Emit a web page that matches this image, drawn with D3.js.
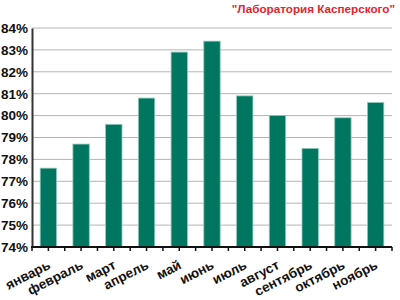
<!DOCTYPE html>
<html><head><meta charset="utf-8">
<script src="https://cdn.jsdelivr.net/npm/d3@7"></script>
<style>body{margin:0;background:#fff}svg{display:block}</style>
</head><body>
<script>
const months = ["январь","февраль","март","апрель","май","июнь","июль","август","сентябрь","октябрь","ноябрь"];
const values = [77.6, 78.7, 79.6, 80.8, 82.9, 83.4, 80.9, 80.0, 78.5, 79.9, 80.6];
const yTicks = [74,75,76,77,78,79,80,81,82,83,84];
const title = "\"Лаборатория Касперского\"";

(function () {
const W = 400, H = 300;
const svg = d3.select("body").append("svg").attr("width", W).attr("height", H);
const mLeft = 32, mRight = 392, mTop = 28, mBottom = 247;
const x = d3.scaleBand().domain(months).range([mLeft, mRight]).paddingInner(0.5).paddingOuter(0.25);
const y = d3.scaleLinear().domain([74, 84]).range([mBottom, mTop]);

svg.append("g").selectAll("line").data(yTicks.slice(1)).join("line")
  .attr("x1", mLeft).attr("x2", mRight)
  .attr("y1", d => y(d)).attr("y2", d => y(d))
  .attr("stroke", "#b4b4b4").attr("stroke-width", 1);

svg.append("g").selectAll("rect").data(values).join("rect")
  .attr("x", (d, i) => x(months[i]))
  .attr("width", x.bandwidth())
  .attr("y", d => y(d))
  .attr("height", d => y(74) - y(d))
  .attr("fill", "#007560")
  .attr("stroke", "#8fcab8").attr("stroke-width", 0.8);

const yAxis = svg.append("g").attr("transform", `translate(${mLeft},0)`)
  .call(d3.axisLeft(y).tickValues(yTicks).tickFormat(d => d + "%").tickSize(0).tickPadding(4));
yAxis.select(".domain").attr("stroke", "#333").attr("stroke-width", 2);
yAxis.selectAll("text").attr("font-family", "Liberation Sans, Arial, sans-serif")
  .attr("font-weight", "bold").attr("font-size", 13.5).attr("fill", "#111");

svg.append("line").attr("x1", mLeft - 1).attr("x2", mRight).attr("y1", mBottom).attr("y2", mBottom)
  .attr("stroke", "#111").attr("stroke-width", 2);
const tickXs = [];
for (let i = 0; i <= months.length; i++) {
  tickXs.push(mLeft + i * (mRight - mLeft) / months.length);
  if (i < months.length) tickXs.push(x(months[i]) + x.bandwidth() / 2);
}
svg.append("g").selectAll("line").data(tickXs).join("line")
  .attr("x1", d => d).attr("x2", d => d).attr("y1", mBottom).attr("y2", mBottom + 4)
  .attr("stroke", "#111").attr("stroke-width", 1.5);

svg.append("g").selectAll("text").data(months).join("text")
  .attr("transform", d => `translate(${x(d) + x.bandwidth() / 2 + 3},${mBottom + 21}) rotate(-27)`)
  .attr("text-anchor", "end")
  .attr("font-family", "Liberation Sans, Arial, sans-serif")
  .attr("font-weight", "bold").attr("font-size", 13.5).attr("fill", "#111")
  .text(d => d);

svg.append("text").attr("x", 395).attr("y", 13).attr("text-anchor", "end")
  .attr("font-family", "Liberation Sans, Arial, sans-serif")
  .attr("font-weight", "bold").attr("font-size", 11.7).attr("fill", "#e8222c")
  .text(title);
})();
</script>
</body></html>
